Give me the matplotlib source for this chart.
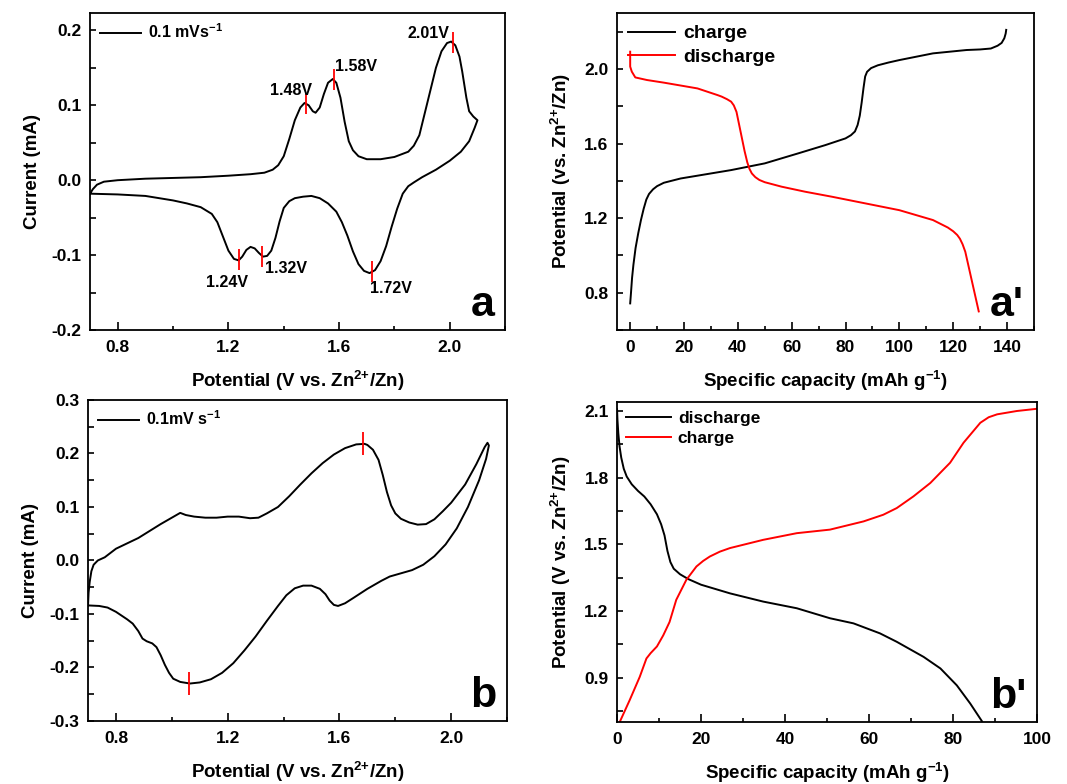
import numpy as np
import matplotlib
matplotlib.use("Agg")
from matplotlib import pyplot as plt
from matplotlib.ticker import MultipleLocator, AutoMinorLocator

plt.rcParams['font.family'] = ['Liberation Sans', 'DejaVu Sans']
plt.rcParams['font.weight'] = 'bold'
plt.rcParams['axes.labelweight'] = 'bold'
plt.rcParams['axes.unicode_minus'] = False
plt.rcParams['mathtext.fontset'] = 'custom'
plt.rcParams['mathtext.rm'] = 'Liberation Sans:bold'
plt.rcParams['mathtext.bf'] = 'Liberation Sans:bold'
plt.rcParams['mathtext.default'] = 'bf'

# --- CV (a): anodic sweep then cathodic sweep, potential in V, current in mA
cv_a_v = [0.70, 0.71, 0.725, 0.75, 0.80, 0.90, 1.00, 1.10, 1.20, 1.28, 1.33, 1.36, 1.38,
          1.40, 1.42, 1.44, 1.46, 1.475, 1.49, 1.505, 1.515, 1.53, 1.545, 1.56, 1.577, 1.59,
          1.605, 1.62, 1.635, 1.65, 1.67, 1.70, 1.75, 1.80, 1.85, 1.87, 1.89, 1.91, 1.93,
          1.95, 1.97, 1.99, 2.005, 2.02, 2.035, 2.045, 2.06, 2.07, 2.085, 2.10,
          2.09, 2.07, 2.04, 2.00, 1.95, 1.90, 1.87, 1.85, 1.83, 1.81, 1.79, 1.77, 1.75, 1.73,
          1.71, 1.69, 1.67, 1.65, 1.63, 1.61, 1.59, 1.56, 1.53, 1.50, 1.47, 1.44, 1.42, 1.40,
          1.385, 1.37, 1.355, 1.34, 1.325, 1.31, 1.295, 1.28, 1.265, 1.25, 1.237, 1.22, 1.20,
          1.18, 1.16, 1.14, 1.10, 1.05, 1.00, 0.90, 0.80, 0.70]
cv_a_i = [-0.018, -0.012, -0.006, -0.002, 0.000, 0.002, 0.003, 0.004, 0.006, 0.008, 0.010,
          0.014, 0.020, 0.032, 0.055, 0.080, 0.097, 0.103, 0.100, 0.092, 0.090, 0.097, 0.115,
          0.130, 0.135, 0.130, 0.110, 0.078, 0.052, 0.040, 0.032, 0.028, 0.028, 0.031, 0.038,
          0.046, 0.060, 0.090, 0.120, 0.150, 0.172, 0.183, 0.185, 0.180, 0.165, 0.145, 0.110,
          0.092, 0.085, 0.080,
          0.070, 0.052, 0.038, 0.026, 0.014, 0.004, -0.003, -0.008, -0.018, -0.038, -0.062,
          -0.088, -0.108, -0.120, -0.124, -0.121, -0.112, -0.095, -0.074, -0.056, -0.042,
          -0.031, -0.024, -0.021, -0.022, -0.024, -0.028, -0.037, -0.055, -0.077, -0.094,
          -0.101, -0.102, -0.097, -0.091, -0.089, -0.093, -0.102, -0.107, -0.105, -0.094,
          -0.075, -0.056, -0.045, -0.036, -0.031, -0.027, -0.021, -0.019, -0.018]
peaks_a_v = [1.48, 1.58, 2.01, 1.24, 1.32, 1.72]
peaks_a_i = [0.102, 0.134, 0.184, -0.106, -0.102, -0.122]
peak_labels_a = ['1.48V', '1.58V', '2.01V', '1.24V', '1.32V', '1.72V']

# --- GCD (a')
ch_a_cap = [0, 0.3, 0.7, 1.2, 2, 3, 4, 5, 6, 7, 8.5, 10, 12.5, 18.75, 25, 37.5, 50, 62.5,
            72.5, 80, 82, 83.5, 84.5, 85.3, 86, 86.7, 87.3, 88, 89.5, 92, 96, 100, 112.5,
            125, 130, 134, 136.5, 138, 139, 139.5, 139.7]
ch_a_pot = [0.743, 0.80, 0.88, 0.95, 1.04, 1.12, 1.19, 1.25, 1.30, 1.33, 1.355, 1.372, 1.39,
            1.413, 1.428, 1.458, 1.494, 1.548, 1.592, 1.628, 1.645, 1.665, 1.70, 1.75, 1.82,
            1.90, 1.96, 1.985, 2.005, 2.02, 2.035, 2.048, 2.084, 2.102, 2.105, 2.11, 2.125,
            2.14, 2.165, 2.19, 2.21]
dis_a_cap = [0, 0, 0.6, 1.9, 6.25, 12.5, 25, 32.5, 34, 36, 37.5, 38.5, 39.5, 40.5, 41.5,
             42.5, 43.5, 44.3, 45.2, 46.5, 48, 50, 56.25, 65, 75, 87.5, 100, 112.5, 118,
             120, 121.5, 122.5, 123.5, 124.5, 129.5]
dis_a_pot = [2.093, 2.013, 1.986, 1.955, 1.941, 1.927, 1.896, 1.86, 1.852, 1.838, 1.825,
             1.805, 1.77, 1.70, 1.63, 1.56, 1.50, 1.465, 1.44, 1.42, 1.405, 1.393, 1.369,
             1.342, 1.315, 1.279, 1.243, 1.19, 1.15, 1.13, 1.11, 1.09, 1.06, 1.02, 0.70]

# --- CV (b)
cv_b_v = [0.70, 0.702, 0.706, 0.712, 0.72, 0.735, 0.76, 0.78, 0.80, 0.84, 0.88, 0.92, 0.96,
          1.00, 1.03, 1.05, 1.08, 1.12, 1.16, 1.20, 1.24, 1.28, 1.31, 1.34, 1.38, 1.42, 1.46,
          1.50, 1.54, 1.58, 1.62, 1.66, 1.69, 1.70, 1.72, 1.74, 1.755, 1.77, 1.785, 1.80,
          1.82, 1.85, 1.88, 1.91, 1.94, 1.97, 2.00, 2.05, 2.09, 2.12, 2.13, 2.135,
          2.125, 2.10, 2.06, 2.02, 1.98, 1.94, 1.90, 1.86, 1.82, 1.78, 1.75, 1.70, 1.65,
          1.62, 1.595, 1.58, 1.565, 1.55, 1.53, 1.50, 1.47, 1.44, 1.41, 1.38, 1.34, 1.30,
          1.26, 1.22, 1.18, 1.14, 1.10, 1.065, 1.03, 1.005, 0.99, 0.975, 0.96, 0.945, 0.93,
          0.91, 0.895, 0.88, 0.86, 0.84, 0.80, 0.77, 0.74, 0.70]
cv_b_i = [-0.084, -0.06, -0.04, -0.02, -0.008, 0.0, 0.006, 0.014, 0.022, 0.032, 0.042,
          0.055, 0.068, 0.080, 0.089, 0.085, 0.082, 0.080, 0.080, 0.082, 0.082, 0.079, 0.080,
          0.088, 0.100, 0.120, 0.142, 0.163, 0.182, 0.198, 0.210, 0.217, 0.218, 0.216,
          0.207, 0.188, 0.160, 0.128, 0.103, 0.088, 0.078, 0.071, 0.067, 0.068, 0.077,
          0.092, 0.108, 0.142, 0.180, 0.212, 0.220, 0.215,
          0.19, 0.15, 0.10, 0.06, 0.03, 0.008, -0.008, -0.018, -0.024, -0.030, -0.038,
          -0.053, -0.070, -0.080, -0.085, -0.083, -0.075, -0.063, -0.053, -0.047, -0.047,
          -0.052, -0.065, -0.085, -0.113, -0.142, -0.168, -0.192, -0.210, -0.222, -0.228,
          -0.230, -0.227, -0.221, -0.210, -0.195, -0.177, -0.162, -0.155, -0.151, -0.146,
          -0.132, -0.118, -0.110, -0.096, -0.088, -0.085, -0.084]
peaks_b_v = [1.686, 1.063]
peaks_b_i = [0.219, -0.230]

# --- GCD (b')
dis_b_cap = [0, 0.1, 0.3, 0.6, 1.0, 1.6, 2.3, 3.5, 5, 6.5, 8, 9.5, 10.5, 11.3, 12, 12.7,
             13.5, 15, 17, 20, 26.9, 34.8, 42.8, 50.7, 56.3, 62.6, 66.6, 73, 77, 80.9,
             84.1, 86.9]
dis_b_pot = [2.108, 2.06, 2.0, 1.94, 1.89, 1.84, 1.805, 1.77, 1.74, 1.715, 1.68, 1.635,
             1.59, 1.54, 1.47, 1.42, 1.39, 1.365, 1.343, 1.318, 1.279, 1.242, 1.212, 1.167,
             1.144, 1.099, 1.061, 0.993, 0.941, 0.865, 0.783, 0.703]
ch_b_cap = [0.64, 3, 5.4, 7, 8, 9.5, 11, 12.5, 14.1, 16.5, 18.9, 20.5, 22.1, 24.5, 26.9,
            34.8, 42.8, 50.7, 58.7, 63.4, 66.6, 70.6, 74.6, 79.3, 82.5, 86.5, 88.5, 90.5,
            95.2, 100]
ch_b_pot = [0.70, 0.798, 0.903, 0.986, 1.01, 1.04, 1.09, 1.15, 1.25, 1.34, 1.40, 1.425,
            1.445, 1.467, 1.483, 1.52, 1.55, 1.566, 1.603, 1.633, 1.663, 1.716, 1.776,
            1.867, 1.957, 2.047, 2.072, 2.085, 2.10, 2.11]

fig = plt.figure(figsize=(10.67, 7.84), dpi=100)
ax_a = fig.add_axes([0.0844, 0.579, 0.389, 0.4043])
ax_a2 = fig.add_axes([0.578, 0.579, 0.391, 0.4043])
ax_b = fig.add_axes([0.0825, 0.0804, 0.3927, 0.4094])
ax_b2 = fig.add_axes([0.5783, 0.0791, 0.3936, 0.408])

LW = 1.4
TICK_FS = 12.5
LABEL_FS = 13.5
LEG_FS = 11.5
ZN = r'Zn$^{2{+}}$/Zn'


def style(ax):
    for s in ax.spines.values():
        s.set_linewidth(1.3)
    ax.tick_params(which='both', direction='in', top=False, right=False,
                   labelsize=TICK_FS, width=1.2)
    ax.tick_params(axis='x', which='major', length=6, pad=7)
    ax.tick_params(axis='x', which='minor', length=3)
    ax.tick_params(axis='y', which='both', length=4, pad=6)


def panel_letter(ax, txt):
    ax.text(0.975, 0.045, txt, transform=ax.transAxes, ha='right', va='baseline',
            fontsize=31, fontweight='bold')


# (a)
ax_a.plot(cv_a_v, cv_a_i, color='black', lw=LW, label=r'0.1 mVs$^{-1}$')
ax_a.vlines(peaks_a_v, np.array(peaks_a_i) - 0.014, np.array(peaks_a_i) + 0.014,
            color='red', lw=1.3)
label_pos = [(-0.055, 0.018, 'center'), (0.005, 0.018, 'left'), (-0.01, 0.012, 'right'),
             (-0.045, -0.03, 'center'), (0.012, -0.016, 'left'), (-0.008, -0.022, 'left')]
for v, i, t, (dx, dy, ha) in zip(peaks_a_v, peaks_a_i, peak_labels_a, label_pos):
    ax_a.text(v + dx, i + dy, t, ha=ha, va='center', fontsize=LEG_FS, fontweight='bold')
ax_a.set_xlim(0.7, 2.2)
ax_a.set_ylim(-0.2, 0.223)
ax_a.xaxis.set_major_locator(MultipleLocator(0.4))
ax_a.xaxis.set_minor_locator(AutoMinorLocator(2))
ax_a.yaxis.set_major_locator(MultipleLocator(0.1))
ax_a.yaxis.set_minor_locator(AutoMinorLocator(2))
ax_a.set_xlabel('Potential (V vs. ' + ZN + ')', fontsize=LABEL_FS, labelpad=10)
ax_a.set_ylabel('Current (mA)', fontsize=LABEL_FS, labelpad=8)
ax_a.legend(loc='upper left', frameon=False, fontsize=LEG_FS, handlelength=2.6,
            borderaxespad=0.2, handletextpad=0.4)
style(ax_a)
panel_letter(ax_a, 'a')

# (a')
ax_a2.plot(ch_a_cap, ch_a_pot, color='black', lw=LW, label='charge')
ax_a2.plot(dis_a_cap, dis_a_pot, color='red', lw=LW, label='discharge')
ax_a2.set_xlim(-5, 150)
ax_a2.set_ylim(0.6, 2.3)
ax_a2.xaxis.set_major_locator(MultipleLocator(20))
ax_a2.xaxis.set_minor_locator(AutoMinorLocator(2))
ax_a2.yaxis.set_major_locator(MultipleLocator(0.4))
ax_a2.yaxis.set_minor_locator(AutoMinorLocator(2))
ax_a2.set_xlabel(r'Specific capacity (mAh g$^{-1}$)', fontsize=LABEL_FS, labelpad=10)
ax_a2.set_ylabel('Potential (vs. ' + ZN + ')', fontsize=LABEL_FS, labelpad=8)
ax_a2.legend(loc='upper left', frameon=False, fontsize=14, handlelength=2.4,
             borderaxespad=0.2, handletextpad=0.4, labelspacing=0.3)
style(ax_a2)
panel_letter(ax_a2, "a'")

# (b)
ax_b.plot(cv_b_v, cv_b_i, color='black', lw=LW, label=r'0.1mV s$^{-1}$')
ax_b.vlines(peaks_b_v, np.array(peaks_b_i) - 0.021, np.array(peaks_b_i) + 0.021,
            color='red', lw=1.3)
ax_b.set_xlim(0.7, 2.2)
ax_b.set_ylim(-0.3, 0.3)
ax_b.xaxis.set_major_locator(MultipleLocator(0.4))
ax_b.xaxis.set_minor_locator(AutoMinorLocator(2))
ax_b.yaxis.set_major_locator(MultipleLocator(0.1))
ax_b.yaxis.set_minor_locator(AutoMinorLocator(2))
ax_b.set_xlabel('Potential (V vs. ' + ZN + ')', fontsize=LABEL_FS, labelpad=10)
ax_b.set_ylabel('Current (mA)', fontsize=LABEL_FS, labelpad=8)
ax_b.legend(loc='upper left', frameon=False, fontsize=LEG_FS, handlelength=2.6,
            borderaxespad=0.2, handletextpad=0.4)
style(ax_b)
panel_letter(ax_b, 'b')

# (b')
ax_b2.plot(dis_b_cap, dis_b_pot, color='black', lw=LW, label='discharge')
ax_b2.plot(ch_b_cap, ch_b_pot, color='red', lw=LW, label='charge')
ax_b2.set_xlim(0, 100)
ax_b2.set_ylim(0.7, 2.14)
ax_b2.xaxis.set_major_locator(MultipleLocator(20))
ax_b2.xaxis.set_minor_locator(AutoMinorLocator(2))
ax_b2.yaxis.set_major_locator(MultipleLocator(0.3))
ax_b2.yaxis.set_minor_locator(AutoMinorLocator(2))
ax_b2.set_xlabel(r'Specific capacity (mAh g$^{-1}$)', fontsize=LABEL_FS, labelpad=10)
ax_b2.set_ylabel('Potential (V vs. ' + ZN + ')', fontsize=LABEL_FS, labelpad=8)
ax_b2.legend(loc='upper left', frameon=False, fontsize=12.5, handlelength=2.6,
             borderaxespad=0.1, handletextpad=0.4, labelspacing=0.3)
style(ax_b2)
panel_letter(ax_b2, "b'")

fig.savefig('out.png', dpi=100)
